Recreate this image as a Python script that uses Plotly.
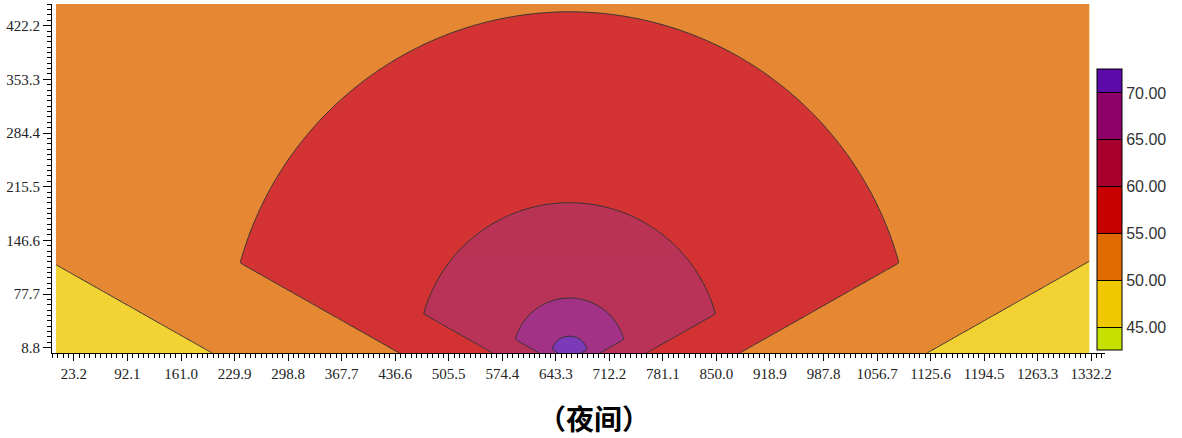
import numpy as np
import plotly.graph_objects as go

# ---- values ----
# sound level (dB) and the radius (m) at which it is reached straight above the source
levels = [73.0, 70.0, 65.0, 60.0, 55.0, 50.0, 45.0]
radii = [8.0, 23.8, 72.6, 195.0, 440.0, 932.0, 1700.0]
source_x = 661.0
source_y = 0.0
fan_angle_deg = 15.5     # below this elevation the contours pull in towards the source
ground_ratio = 0.49      # radius along the ground / radius above the fan angle

x_ticks = [23.2, 92.1, 161.0, 229.9, 298.8, 367.7, 436.6, 505.5, 574.4, 643.3,
           712.2, 781.1, 850.0, 918.9, 987.8, 1056.7, 1125.6, 1194.5, 1263.3, 1332.2]
x_tick_text = ["23.2", "92.1", "161.0", "229.9", "298.8", "367.7", "436.6", "505.5",
               "574.4", "643.3", "712.2", "781.1", "850.0", "918.9", "987.8", "1056.7",
               "1125.6", "1194.5", "1263.3", "1332.2"]
y_ticks = [8.8, 77.7, 146.6, 215.5, 284.4, 353.3, 422.2]
y_tick_text = ["8.8", "77.7", "146.6", "215.5", "284.4", "353.3", "422.2"]
cbar_levels = [45, 50, 55, 60, 65, 70]
cbar_text = ["45.00", "50.00", "55.00", "60.00", "65.00", "70.00"]
band_colors = ["#c6e000", "#f0c800", "#e06a00", "#c80000", "#a8002e", "#8c0068", "#5c0aa8"]
caption = "（夜间）"

# ---- field grid ----
xs = np.linspace(0, 1330, 533)
ys = np.linspace(2, 450, 180)
X, Y = np.meshgrid(xs, ys)
dx = X - source_x
dy = Y - source_y
r = np.hypot(dx, dy)
theta = np.arctan2(dy, np.abs(dx))
t0 = np.radians(fan_angle_deg)
k = (np.cos(t0) - ground_ratio) / np.sin(t0)
h = np.where(theta >= t0, 1.0,
             ground_ratio / (np.cos(theta) - np.sin(theta) * k))
reff = np.maximum(r / h, 1.0)
lr = np.log10(np.array(radii))
lv = np.array(levels)
Z = np.interp(np.log10(reff), lr, lv)
Z = np.round(Z, 3)

colorscale = [[i / 6, c] for i, c in enumerate(band_colors)]

fig = go.Figure()
fig.add_trace(go.Contour(
    x=xs, y=ys, z=Z,
    colorscale=colorscale,
    contours=dict(start=45, end=70, size=5, coloring="fill", showlines=True),
    line=dict(color="black", width=1),
    opacity=0.8,
    hoverinfo="skip",
    colorbar=dict(
        thickness=25, thicknessmode="pixels",
        len=281, lenmode="pixels",
        x=(1097 - 52) / 1053, xanchor="left",
        y=(353 - 210) / 349, yanchor="middle",
        xpad=0, ypad=0,
        outlinecolor="black", outlinewidth=1,
        tickmode="array", tickvals=cbar_levels, ticktext=cbar_text,
        ticks="",
        tickfont=dict(family="Liberation Sans, Arial, sans-serif", size=16, color="#333333"),
    ),
))

axis_font = dict(family="Liberation Serif, Times New Roman, serif", size=15, color="#222222")

fig.update_layout(
    width=1182, height=438,
    margin=dict(l=52, r=77, t=4, b=85),
    plot_bgcolor="white", paper_bgcolor="white",
    showlegend=False,
    xaxis=dict(
        range=[-5, 1350], showgrid=False, zeroline=False,
        showline=True, linecolor="black", linewidth=1,
        ticks="outside", ticklen=7, tickcolor="black",
        tickmode="array", tickvals=x_ticks, ticktext=x_tick_text,
        tickfont=axis_font,
        minor=dict(ticks="outside", ticklen=4, tickcolor="black",
                   tickmode="linear", tick0=23.2, dtick=6.89, showgrid=False),
    ),
    yaxis=dict(
        range=[2, 450], showgrid=False, zeroline=False,
        showline=True, linecolor="black", linewidth=1,
        ticks="outside", ticklen=8, tickcolor="black",
        tickmode="array", tickvals=y_ticks, ticktext=y_tick_text,
        tickfont=axis_font,
        minor=dict(ticks="outside", ticklen=4, tickcolor="black",
                   tickmode="linear", tick0=8.8, dtick=6.89, showgrid=False),
    ),
    annotations=[dict(
        text="<b>" + caption + "</b>", xref="paper", yref="paper",
        x=(594 - 52) / 1053, y=(353 - 418) / 349,
        xanchor="center", yanchor="middle", showarrow=False,
        font=dict(family="Noto Sans CJK SC", size=28, color="black"),
    )],
)

fig.write_html("out.html", config={"displayModeBar": False},
               post_script="document.body.style.margin='0px';")
